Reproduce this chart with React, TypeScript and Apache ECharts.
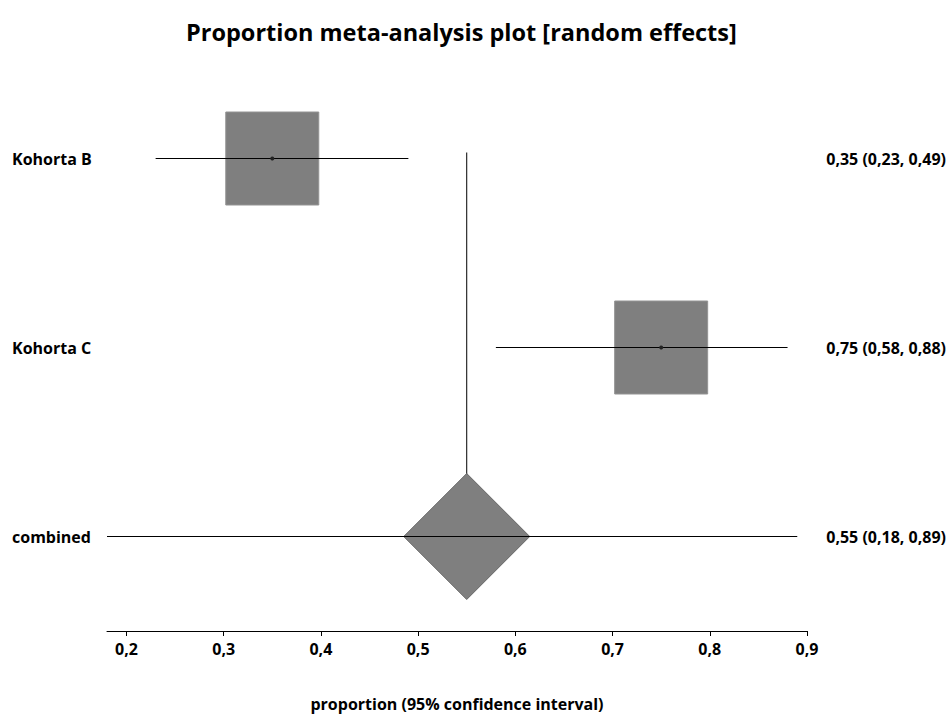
import React, { useEffect, useRef } from "react";
import * as echarts from "echarts";

const studies = ["Kohorta B", "Kohorta C", "combined"];
const estimates = [0.35, 0.75, 0.55];
const lowerCI = [0.23, 0.58, 0.18];
const upperCI = [0.49, 0.88, 0.89];
const summaryLabels = ["0,35 (0,23, 0,49)", "0,75 (0,58, 0,88)", "0,55 (0,18, 0,89)"];
const tickValues = [0.2, 0.3, 0.4, 0.5, 0.6, 0.7, 0.8, 0.9];

const FONT = "'Open Sans', 'DejaVu Sans', sans-serif";

export default function App() {
  const ref = useRef<HTMLDivElement>(null);
  useEffect(() => {
    if (!ref.current) return;
    const chart = echarts.init(ref.current, null, { renderer: "svg" });
    const nStudies = studies.length - 1;
    const squareData = estimates.slice(0, nStudies).map((v, i) => [v, i]);
    const ciData = estimates.map((v, i) => [lowerCI[i], upperCI[i], i]);
    const pooledIdx = studies.length - 1;
    const labelStyle = { fontFamily: FONT, fontSize: 16, fontWeight: "bold", color: "#000" };
    const option: any = {
      animation: false,
      backgroundColor: "#ffffff",
      title: {
        text: "Proportion meta-analysis plot [random effects]",
        left: 181,
        top: 15,
        textStyle: { fontFamily: FONT, fontSize: 23.5, fontWeight: "bold", color: "#000" },
      },
      grid: { left: 107, right: 143, top: 64, bottom: 79 },
      xAxis: {
        type: "value",
        min: 0.18,
        max: 0.9,
        name: "proportion (95% confidence interval)",
        nameLocation: "middle",
        nameGap: 65,
        nameTextStyle: labelStyle,
        axisLine: { show: true, lineStyle: { color: "#000", width: 1 } },
        axisTick: { show: true, customValues: tickValues, length: 5, lineStyle: { color: "#000" } },
        axisLabel: {
          customValues: tickValues,
          formatter: (v: number) => v.toFixed(1).replace(".", ","),
          ...labelStyle,
          margin: 10,
        },
        splitLine: { show: false },
      },
      yAxis: [
        {
          type: "category",
          data: studies,
          inverse: true,
          axisLine: { show: false },
          axisTick: { show: false },
          axisLabel: { align: "left", margin: 95, ...labelStyle },
        },
        {
          type: "category",
          data: summaryLabels,
          inverse: true,
          position: "right",
          axisLine: { show: false },
          axisTick: { show: false },
          axisLabel: { align: "right", margin: 139, ...labelStyle },
        },
      ],
      series: [
        {
          type: "custom",
          name: "pooled line",
          coordinateSystem: "cartesian2d",
          data: [[estimates[pooledIdx], 0, pooledIdx]],
          renderItem: (params: any, api: any) => {
            const p0 = api.coord([api.value(0), api.value(1)]);
            const p1 = api.coord([api.value(0), api.value(2)]);
            return {
              type: "line",
              shape: { x1: p0[0], y1: p0[1] - 6, x2: p1[0], y2: p1[1] },
              style: { stroke: "#000", lineWidth: 1 },
            };
          },
          z: 1,
        },
        {
          type: "scatter",
          name: "studies",
          data: squareData,
          symbol: "rect",
          symbolSize: 93,
          itemStyle: { color: "#7f7f7f", borderColor: "#949494", borderWidth: 1, opacity: 1 },
          z: 2,
        },
        {
          type: "custom",
          name: "diamond",
          coordinateSystem: "cartesian2d",
          data: [[estimates[pooledIdx], pooledIdx]],
          renderItem: (params: any, api: any) => {
            const c = api.coord([api.value(0), api.value(1)]);
            const h = 63;
            return {
              type: "polygon",
              shape: {
                points: [
                  [c[0], c[1] - h],
                  [c[0] + h, c[1]],
                  [c[0], c[1] + h],
                  [c[0] - h, c[1]],
                ],
              },
              style: { fill: "#7f7f7f", stroke: "#666", lineWidth: 1 },
            };
          },
          z: 3,
        },
        {
          type: "custom",
          name: "ci",
          coordinateSystem: "cartesian2d",
          data: ciData,
          renderItem: (params: any, api: any) => {
            const a = api.coord([api.value(0), api.value(2)]);
            const b = api.coord([api.value(1), api.value(2)]);
            return {
              type: "line",
              shape: { x1: a[0], y1: a[1], x2: b[0], y2: b[1] },
              style: { stroke: "#000", lineWidth: 1 },
            };
          },
          z: 4,
        },
        {
          type: "scatter",
          name: "points",
          data: squareData,
          symbol: "circle",
          symbolSize: 4,
          itemStyle: { color: "#222", opacity: 1 },
          z: 5,
        },
      ],
    };
    chart.setOption(option);
    return () => chart.dispose();
  }, []);
  return (
    <div
      ref={ref}
      style={{ position: "fixed", left: 0, top: 0, width: 950, height: 717 }}
    />
  );
}
